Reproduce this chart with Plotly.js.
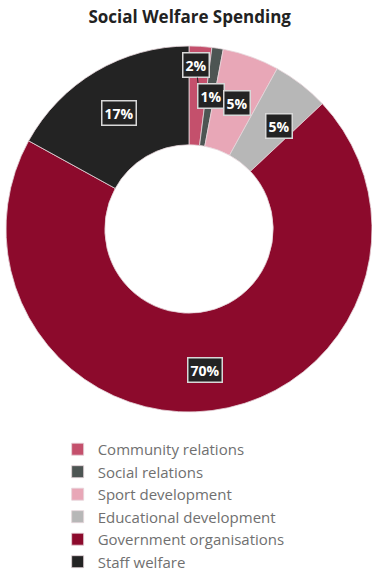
<!DOCTYPE html>
<html>
<head>
<meta charset="utf-8">
<script src="https://cdn.plot.ly/plotly-3.0.1.min.js"></script>
<style>html,body{margin:0;padding:0;background:#fff;}#chart{width:372px;height:578px;}</style>
</head>
<body>
<div id="chart"></div>
<script>
// ---- data ----
var categories = ["Community relations", "Social relations", "Sport development", "Educational development", "Government organisations", "Staff welfare"];
var values = [2, 1, 5, 5, 70, 17];
var labelsText = ["2%", "1%", "5%", "5%", "70%", "17%"];
var chartTitle = "Social Welfare Spending";

// ---- styles ----
var colors = ["#c4506c", "#4d5553", "#e8a7b7", "#b7b7b7", "#8c0a2c", "#232323"];
var W = 372, H = 578;
var cx = 190, cy = 229, R = 184;            // pie centre / radius in px
var labelRadius = [0.89, 0.73, 0.73, 0.74, 0.77, 0.74];
var angleShift = [-1.5, 0, 0.7, 3, 1, -1];     // small nudges in degrees

var domX = [(cx - R) / W, Math.min(1, (cx + R) / W)];
var domY = [(H - cy - R) / H, (H - cy + R) / H];

var total = values.reduce(function(a, b){ return a + b; }, 0);
var annotations = [];
var cum = 0;
for (var i = 0; i < values.length; i++) {
  var mid = (cum + values[i] / 2) / total * 360 + angleShift[i];
  cum += values[i];
  var rad = mid * Math.PI / 180;
  var r = labelRadius[i] * R;
  var px = cx + r * Math.sin(rad);
  var py = cy - r * Math.cos(rad);
  var ann = {
    x: px / W, y: 1 - py / H, xref: "paper", yref: "paper",
    xanchor: "center", yanchor: "middle",
    text: "<b>" + labelsText[i] + "</b>",
    font: {family: "Open Sans", size: 14, color: "#ffffff"},
    bgcolor: "#232323", bordercolor: "#d8d8d8", borderwidth: 1.5, borderpad: 2,
    showarrow: false
  };
  if (i === 0) {
    // leader line from the slice to the label
    var r2 = 0.76 * R;
    var ang2 = (values[0] / 2) / total * 360 * Math.PI / 180;
    var qx = cx + r2 * Math.sin(ang2), qy = cy - r2 * Math.cos(ang2);
    ann.x = qx / W; ann.y = 1 - qy / H;
    ann.showarrow = true; ann.arrowhead = 0; ann.arrowwidth = 1; ann.arrowcolor = "#232323";
    ann.ax = px - qx; ann.ay = py - qy;
  }
  annotations.push(ann);
}

var trace = {
  type: "pie",
  labels: categories,
  values: values,
  hole: 0.46,
  sort: false,
  direction: "clockwise",
  rotation: 0,
  textinfo: "none",
  marker: {colors: colors, line: {color: "#e6d6da", width: 0.8}},
  domain: {x: domX, y: domY},
  hoverinfo: "label+percent"
};

var layout = {
  width: W, height: H,
  margin: {l: 0, r: 0, t: 0, b: 0, autoexpand: false},
  paper_bgcolor: "#ffffff",
  title: {text: "<b>" + chartTitle + "</b>", x: 0.51, xanchor: "center", y: 0.97, yanchor: "middle",
          font: {family: "Open Sans", size: 17, color: "#222222"}},
  showlegend: true,
  legend: {x: 0.155, xanchor: "left", y: 0.251, yanchor: "top", orientation: "v",
           font: {family: "Open Sans", size: 15, color: "#707070"}, itemwidth: 30,
           bgcolor: "rgba(0,0,0,0)"},
  annotations: annotations
};

Plotly.newPlot("chart", [trace], layout, {displayModeBar: false, staticPlot: true});
</script>
</body>
</html>
